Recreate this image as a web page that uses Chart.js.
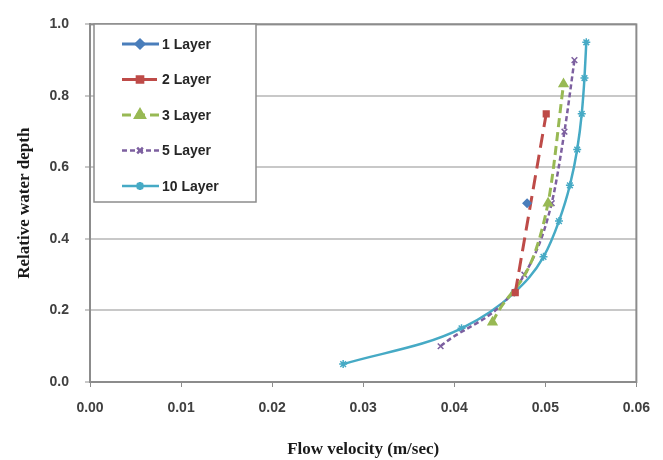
<!DOCTYPE html>
<html>
<head>
<meta charset="utf-8">
<script src="https://cdn.jsdelivr.net/npm/chart.js@4"></script>
<style>
  body { margin: 0; background: #fff; }
  #wrap { width: 663px; height: 460px; }
</style>
</head>
<body>
<div id="wrap"><canvas id="chart" width="663" height="460"></canvas></div>
<script>
// values (velocity m/s, relative depth)
const vel1 = [0.0480];
const depth1 = [0.5];
const vel2 = [0.0467, 0.0501];
const depth2 = [0.25, 0.75];
const vel3 = [0.0442, 0.0503, 0.0520];
const depth3 = [0.167, 0.5, 0.833];
const vel5 = [0.0385, 0.0477, 0.0507, 0.0521, 0.0532];
const depth5 = [0.1, 0.3, 0.5, 0.7, 0.9];
const vel10 = [0.0278, 0.0408, 0.0466, 0.0498, 0.0515, 0.0527, 0.0535, 0.0540, 0.0543, 0.0545];
const depth10 = [0.05, 0.15, 0.25, 0.35, 0.45, 0.55, 0.65, 0.75, 0.85, 0.95];

const seriesNames = ['1 Layer', '2 Layer', '3 Layer', '5 Layer', '10 Layer'];

function pts(v, d) {
    return v.map((x, i) => ({ x: x, y: d[i] }));
}

const tickFont = { family: 'Liberation Sans', size: 14, weight: 'bold' };
const titleFont = { family: 'Liberation Serif', size: 17, weight: 'bold' };

// box around plot area
const frame = {
    id: 'frame',
    afterDatasetsDraw(chart) {
        const a = chart.chartArea, c = chart.ctx;
        c.save();
        c.strokeStyle = '#8c8c8c';
        c.lineWidth = 2;
        c.strokeRect(a.left, a.top, a.right - a.left, a.bottom - a.top);
        c.restore();
    }
};

// legend drawn inside the plot, top-left
const boxLegend = {
    id: 'boxLegend',
    afterDraw(chart) {
        const c = chart.ctx;
        const x0 = 94, y0 = 24, w = 162, h = 178;
        c.save();
        c.fillStyle = '#fff';
        c.fillRect(x0, y0, w, h);
        c.strokeStyle = '#8c8c8c';
        c.lineWidth = 1.5;
        c.strokeRect(x0, y0, w, h);
        chart.data.datasets.forEach((ds, i) => {
            const y = 44 + i * 35.5;
            c.strokeStyle = ds.borderColor;
            c.lineWidth = ds.borderWidth;
            c.setLineDash(ds.borderDash || []);
            c.beginPath();
            c.moveTo(122, y);
            c.lineTo(159, y);
            c.stroke();
            c.setLineDash([]);
            c.fillStyle = ds.pointBackgroundColor;
            c.strokeStyle = ds.pointBorderColor;
            Chart.helpers.drawPoint(c, {
                pointStyle: ds.pointStyle,
                radius: ds.pointRadius,
                borderWidth: 1.5
            }, 140, y);
            c.fillStyle = '#262626';
            c.font = 'bold 14px "Liberation Sans"';
            c.textBaseline = 'middle';
            c.fillText(ds.label, 162, y + 1);
        });
        c.restore();
    }
};

function makeSet(label, data, color, style, dash, width, radius) {
    return {
        label: label,
        data: data,
        borderColor: color,
        backgroundColor: color,
        pointBackgroundColor: color,
        pointBorderColor: color,
        pointStyle: style,
        pointRadius: radius,
        pointBorderWidth: 1.5,
        borderWidth: width,
        borderDash: dash,
        showLine: true,
        tension: 0.4,
        cubicInterpolationMode: 'monotone'
    };
}

new Chart(document.getElementById('chart'), {
    type: 'scatter',
    data: {
        datasets: [
            makeSet(seriesNames[0], pts(vel1, depth1), '#4a7ebb', 'rectRot', [], 3, 4),
            makeSet(seriesNames[1], pts(vel2, depth2), '#be4b48', 'rect', [14, 7], 3, 4),
            makeSet(seriesNames[2], pts(vel3, depth3), '#98b954', 'triangle', [9, 5], 3, 5),
            makeSet(seriesNames[3], pts(vel5, depth5), '#7d60a0', 'crossRot', [5, 3], 2.5, 4),
            makeSet(seriesNames[4], pts(vel10, depth10), '#46aac5', 'star', [], 2.5, 4)
        ]
    },
    options: {
        responsive: false,
        animation: false,
        layout: { padding: { top: 20, right: 17, left: 14, bottom: 0 } },
        plugins: {
            legend: { display: false },
            tooltip: { enabled: false }
        },
        scales: {
            x: {
                type: 'linear',
                min: 0,
                max: 0.06,
                afterFit(scale) { scale.height = 78; },
                ticks: {
                    stepSize: 0.01,
                    padding: 13,
                    color: '#404040',
                    font: tickFont,
                    callback: v => v.toFixed(2)
                },
                grid: { drawOnChartArea: false, tickLength: 5, color: '#8c8c8c' },
                border: { color: '#8c8c8c', width: 2 },
                title: {
                    display: true,
                    text: 'Flow velocity (m/sec)',
                    color: '#1a1a1a',
                    font: titleFont,
                    padding: { top: 0, bottom: 0 }
                }
            },
            y: {
                min: 0,
                max: 1,
                afterFit(scale) { scale.width = 76; },
                ticks: {
                    stepSize: 0.2,
                    padding: 16,
                    color: '#404040',
                    font: tickFont,
                    callback: v => v.toFixed(1)
                },
                grid: { color: '#c8c8c8', lineWidth: 2, tickLength: 5 },
                border: { color: '#8c8c8c', width: 2 },
                title: {
                    display: true,
                    text: 'Relative water depth',
                    color: '#1a1a1a',
                    font: titleFont,
                    padding: { top: 0, bottom: 0 }
                }
            }
        }
    },
    plugins: [frame, boxLegend]
});
</script>
</body>
</html>
